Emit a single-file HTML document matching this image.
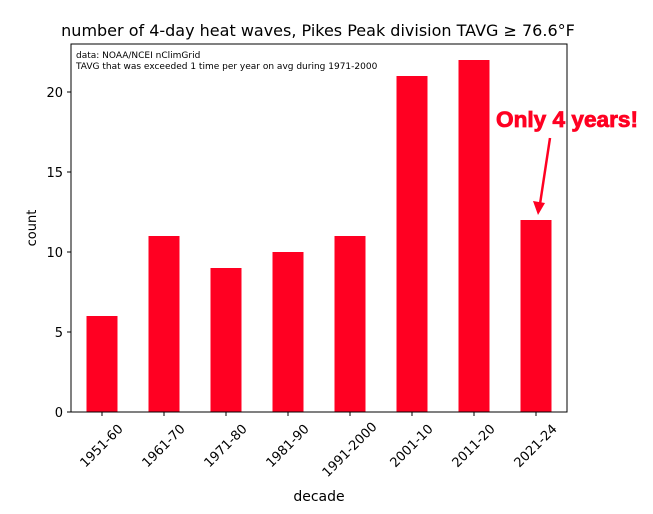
<!DOCTYPE html>
<html><head><meta charset="utf-8"><style>
body{margin:0;background:#fff;}
svg{display:block;font-family:"DejaVu Sans","Liberation Sans",sans-serif;}
</style></head><body>
<svg id="c" width="653" height="514" viewBox="0 0 653 514"></svg>
<script>
const categories=["1951-60","1961-70","1971-80","1981-90","1991-2000","2001-10","2011-20","2021-24"];
const counts=[6,11,9,10,11,21,22,12];
const yTicks=[0,5,10,15,20];
const L=71,R=567,T=44,B=412,yMax=23;
const NS="http://www.w3.org/2000/svg";
const svg=document.getElementById('c');
function y(v){return B-v*(B-T)/yMax;}
const step=(R-L)/categories.length;
function x(i){return L+step*(i+0.5);}
function mk(t,a,p){const e=document.createElementNS(NS,t);for(const k in a)e.setAttribute(k,a[k]);(p||svg).appendChild(e);return e;}
const bw=step*0.5;
counts.forEach((v,i)=>{
 const r=mk('rect',{x:x(i)-bw/2,y:y(v),width:bw,height:B-y(v),fill:'#ff0022'});
 
 
});
const fr=mk('rect',{x:L,y:T,width:R-L,height:B-T,fill:'none',stroke:'#000','stroke-width':1});


yTicks.forEach(t=>{
 mk('line',{x1:L-4,x2:L,y1:y(t),y2:y(t),stroke:'#000'});
 const tx=mk('text',{x:L-8,y:y(t)+5,'text-anchor':'end','font-size':13});
 tx.textContent=t;
 
 
});
categories.forEach((c,i)=>{
 mk('line',{x1:x(i),x2:x(i),y1:B,y2:B+4,stroke:'#000'});
 const cx=x(i)-1, cy=B+20+c.length*1.9;
 const tx=mk('text',{x:cx,y:cy+5,'text-anchor':'middle','font-size':13,transform:`rotate(-45 ${cx} ${cy})`});
 tx.textContent=c;
 
 
});
</script>
<svg style="position:absolute;left:0;top:0" width="653" height="514" font-family="DejaVu Sans, Liberation Sans, sans-serif">
<text x="318" y="36" text-anchor="middle" font-size="16">number of 4-day heat waves, Pikes Peak division TAVG ≥ 76.6°F</text>
<text x="76" y="58" font-size="9">data: NOAA/NCEI nClimGrid</text>
<text x="76" y="69" font-size="9">TAVG that was exceeded 1 time per year on avg during 1971-2000</text>
<text x="36" y="228" text-anchor="middle" font-size="13" transform="rotate(-90 36 228)">count</text>
<text x="319" y="501" text-anchor="middle" font-size="14">decade</text>
<text x="567" y="127" text-anchor="middle" font-size="22" font-weight="bold" fill="#ff0022" stroke="#ff0022" stroke-width="0.8" textLength="142" lengthAdjust="spacingAndGlyphs" font-family="Liberation Sans, sans-serif">Only 4 years!</text>
<line x1="550" y1="138" x2="540" y2="204" stroke="#ff0022" stroke-width="2.5"/>
<polygon points="538,215 533,201 545,203" fill="#ff0022"/>
</svg>
</body></html>
